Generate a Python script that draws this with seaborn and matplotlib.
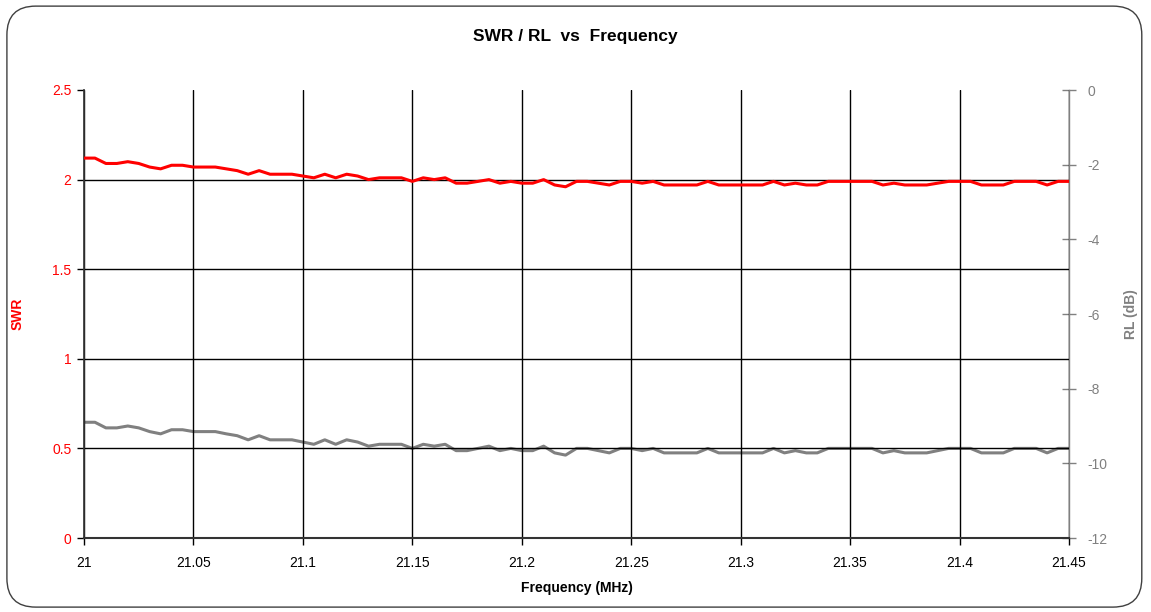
import numpy as np
import pandas as pd
import matplotlib
matplotlib.use("Agg")
import matplotlib.pyplot as plt
from matplotlib.patches import FancyBboxPatch
import seaborn as sns

# ---- data ----
freq_start = 21.000
freq_step = 0.005
swr = [2.12, 2.12, 2.09, 2.09, 2.10, 2.09, 2.07, 2.06, 2.08, 2.08,
       2.07, 2.07, 2.07, 2.06, 2.05, 2.03, 2.05, 2.03, 2.03, 2.03,
       2.02, 2.01, 2.03, 2.01, 2.03, 2.02, 2.00, 2.01, 2.01, 2.01,
       1.99, 2.01, 2.00, 2.01, 1.98, 1.98, 1.99, 2.00, 1.98, 1.99,
       1.98, 1.98, 2.00, 1.97, 1.96, 1.99, 1.99, 1.98, 1.97, 1.99,
       1.99, 1.98, 1.99, 1.97, 1.97, 1.97, 1.97, 1.99, 1.97, 1.97,
       1.97, 1.97, 1.97, 1.99, 1.97, 1.98, 1.97, 1.97, 1.99, 1.99,
       1.99, 1.99, 1.99, 1.97, 1.98, 1.97, 1.97, 1.97, 1.98, 1.99,
       1.99, 1.99, 1.97, 1.97, 1.97, 1.99, 1.99, 1.99, 1.97, 1.99,
       1.99]
rl = [-8.90, -8.90, -9.05, -9.05, -9.00, -9.05, -9.15, -9.21, -9.10, -9.10,
      -9.15, -9.15, -9.15, -9.21, -9.26, -9.37, -9.26, -9.37, -9.37, -9.37,
      -9.43, -9.49, -9.37, -9.49, -9.37, -9.43, -9.54, -9.49, -9.49, -9.49,
      -9.60, -9.49, -9.54, -9.49, -9.66, -9.66, -9.60, -9.54, -9.66, -9.60,
      -9.66, -9.66, -9.54, -9.72, -9.78, -9.60, -9.60, -9.66, -9.72, -9.60,
      -9.60, -9.66, -9.60, -9.72, -9.72, -9.72, -9.72, -9.60, -9.72, -9.72,
      -9.72, -9.72, -9.72, -9.60, -9.72, -9.66, -9.72, -9.72, -9.60, -9.60,
      -9.60, -9.60, -9.60, -9.72, -9.66, -9.72, -9.72, -9.72, -9.66, -9.60,
      -9.60, -9.60, -9.72, -9.72, -9.72, -9.60, -9.60, -9.60, -9.72, -9.60,
      -9.60]
freq = [round(freq_start + i * freq_step, 3) for i in range(len(swr))]
x_ticks = [21, 21.05, 21.1, 21.15, 21.2, 21.25, 21.3, 21.35, 21.4, 21.45]
x_tick_labels = ["21", "21.05", "21.1", "21.15", "21.2", "21.25", "21.3", "21.35", "21.4", "21.45"]
swr_ticks = [0, 0.5, 1, 1.5, 2, 2.5]
swr_tick_labels = ["0", "0.5", "1", "1.5", "2", "2.5"]
rl_ticks = [-12, -10, -8, -6, -4, -2, 0]
rl_tick_labels = ["-12", "-10", "-8", "-6", "-4", "-2", "0"]

df = pd.DataFrame({"freq": freq, "swr": swr, "rl": rl})

sns.set_theme(style="white")
plt.rcParams["font.family"] = ["Liberation Sans", "DejaVu Sans"]

RED = "#ff0000"
GRAY = "#808080"

fig = plt.figure(figsize=(11.51, 6.12), dpi=100)
fig.patch.set_facecolor("white")
# rounded chart border
border = FancyBboxPatch((0.006, 0.008), 0.986, 0.982,
                        boxstyle="round,pad=0,rounding_size=0.025",
                        transform=fig.transFigure, fill=False,
                        edgecolor="#404040", linewidth=1.0,
                        mutation_aspect=11.51 / 6.12)
fig.patches.append(border)

ax = fig.add_axes([84 / 1151, 1 - 538 / 612, (1069 - 84) / 1151, (538 - 90) / 612])
ax2 = ax.twinx()

sns.lineplot(data=df, x="freq", y="swr", ax=ax, color=RED, linewidth=2.2, zorder=5)
sns.lineplot(data=df, x="freq", y="rl", ax=ax2, color=GRAY, linewidth=2.2, zorder=5)

ax.set_xlim(21, 21.45)
ax.set_ylim(0, 2.5)
ax2.set_ylim(-12, 0)

ax.set_xticks(x_ticks)
ax.set_xticklabels(x_tick_labels)
ax.set_yticks(swr_ticks)
ax.set_yticklabels(swr_tick_labels)
ax2.set_yticks(rl_ticks)
ax2.set_yticklabels(rl_tick_labels)

# grid
for xv in x_ticks:
    ax.axvline(xv, color="black", linewidth=1.0, zorder=1)
for yv in swr_ticks[:-1]:
    ax.axhline(yv, color="black", linewidth=1.0, zorder=1)
ax.grid(False)
ax2.grid(False)

for sp in ax.spines.values():
    sp.set_visible(False)
for sp in ax2.spines.values():
    sp.set_visible(False)
ax2.spines["right"].set_visible(True)
ax2.spines["right"].set_color(GRAY)
ax2.spines["right"].set_linewidth(1.0)
ax.spines["bottom"].set_visible(True)
ax.spines["bottom"].set_color("#333333")
ax.spines["bottom"].set_linewidth(1.5)
ax.spines["left"].set_visible(True)
ax.spines["left"].set_color("#333333")

ax.tick_params(axis="x", direction="out", length=5, width=1, colors="black",
               labelsize=10, pad=8, bottom=True)
ax.tick_params(axis="y", direction="out", length=5, width=1, colors="black",
               labelcolor=RED, labelsize=10, pad=4, left=True)
ax2.tick_params(axis="y", direction="inout", length=10, width=1, colors=GRAY,
                labelcolor=GRAY, labelsize=10, pad=8, right=True)

ax.set_xlabel("Frequency (MHz)", fontsize=10, fontweight="bold", color="black", labelpad=8)
ax.set_ylabel("SWR", fontsize=10, fontweight="bold", color=RED, labelpad=20)
ax2.set_ylabel("RL (dB)", fontsize=10, fontweight="bold", color=GRAY, labelpad=12)

fig.text(0.5, 1 - 36 / 612, "SWR / RL  vs  Frequency", ha="center", va="center",
         fontsize=12.5, fontweight="bold", color="black")

ax.set_zorder(ax2.get_zorder() + 1)
ax.patch.set_visible(False)

fig.savefig("out.png", dpi=100, facecolor="white")
